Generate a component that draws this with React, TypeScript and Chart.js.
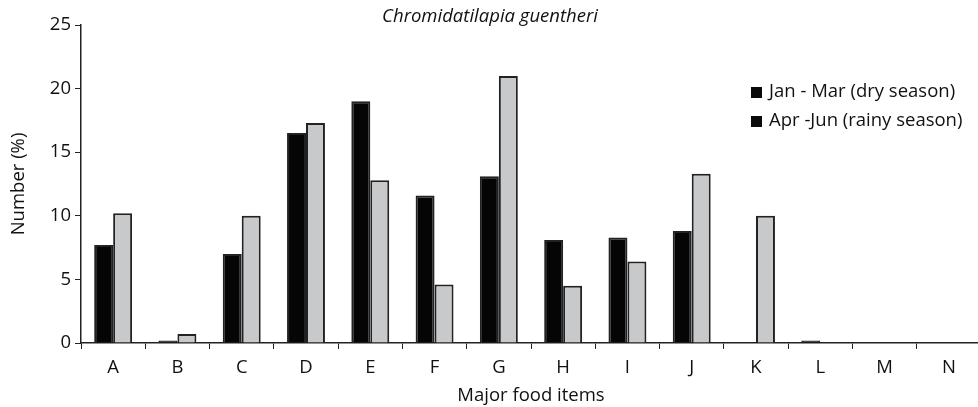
import React, { useEffect, useRef } from "react";
import { Chart, registerables } from "chart.js";

Chart.register(...registerables);

const categories = ["A", "B", "C", "D", "E", "F", "G", "H", "I", "J", "K", "L", "M", "N"];
const drySeason = [7.7, 0.2, 7.0, 16.5, 19.0, 11.6, 13.1, 8.1, 8.3, 8.8, 0, 0.2, 0, 0];
const rainySeason = [10.2, 0.7, 10.0, 17.3, 12.8, 4.6, 21.0, 4.5, 6.4, 13.3, 10.0, 0, 0, 0];
const seriesLabels = ["Jan - Mar (dry season)", "Apr -Jun (rainy season)"];
const chartTitle = "Chromidatilapia guentheri";
const xTitle = "Major food items";
const yTitle = "Number (%)";

const FONT = "'Open Sans', 'Noto Sans', sans-serif";
const FS = 18.5;

const overlayPlugin = {
  id: "overlay",
  afterDraw(chart: any) {
    const ctx = chart.ctx;
    ctx.save();
    ctx.fillStyle = "#111";
    ctx.font = `italic ${FS}px ${FONT}`;
    ctx.textAlign = "center";
    ctx.textBaseline = "middle";
    ctx.fillText(chartTitle, 490, 17);
    ctx.font = `${FS}px ${FONT}`;
    ctx.textAlign = "left";
    seriesLabels.forEach((lab, i) => {
      const y = 92 + i * 29;
      ctx.fillStyle = "#0a0a0a";
      ctx.fillRect(751, y - 5, 11, 11);
      ctx.fillStyle = "#111";
      ctx.fillText(lab, 769, y);
    });
    ctx.restore();
  },
};

export default function App() {
  const ref = useRef<HTMLCanvasElement>(null);
  useEffect(() => {
    if (!ref.current) return;
    const chart = new Chart(ref.current, {
      type: "bar",
      data: {
        labels: categories,
        datasets: [
          {
            label: seriesLabels[0],
            data: drySeason,
            backgroundColor: "#050505",
            borderColor: "#222",
            borderWidth: 2,
          },
          {
            label: seriesLabels[1],
            data: rainySeason,
            backgroundColor: "#c8c9cb",
            borderColor: "#222",
            borderWidth: 2,
          },
        ],
      },
      options: {
        animation: false,
        responsive: false,
        devicePixelRatio: 1,
        layout: { padding: { top: 25, right: 9, left: 0, bottom: 0 } },
        datasets: { bar: { barPercentage: 1, categoryPercentage: 0.59 } },
        plugins: { legend: { display: false }, tooltip: { enabled: false }, title: { display: false } },
        scales: {
          x: {
            grid: { display: true, drawOnChartArea: false, drawTicks: true, tickLength: 6, color: "#222", offset: true },
            border: { display: true, color: "#222", width: 1.5 },
            ticks: { color: "#111", font: { family: FONT, size: FS }, padding: 8, maxRotation: 0 },
            title: { display: true, text: xTitle, color: "#111", font: { family: FONT, size: FS }, padding: { top: 2, bottom: 0 } },
            afterFit: (s: any) => { s.height = 64; },
          },
          y: {
            min: 0,
            max: 25,
            ticks: { stepSize: 5, color: "#111", font: { family: FONT, size: FS }, padding: 4 },
            grid: { display: true, drawOnChartArea: false, drawTicks: true, tickLength: 6, color: "#222" },
            border: { display: true, color: "#222", width: 1.5 },
            title: { display: true, text: yTitle, color: "#111", font: { family: FONT, size: FS }, padding: { top: 8, bottom: 0 } },
            afterFit: (s: any) => { s.width = 81; },
          },
        },
      },
      plugins: [overlayPlugin],
    });
    return () => chart.destroy();
  }, []);
  return (
    <div style={{ position: "fixed", left: 0, top: 0, width: 978, height: 407, overflow: "hidden", background: "#fff" }}>
      <canvas ref={ref} width={990} height={407} style={{ display: "block" }} />
    </div>
  );
}
